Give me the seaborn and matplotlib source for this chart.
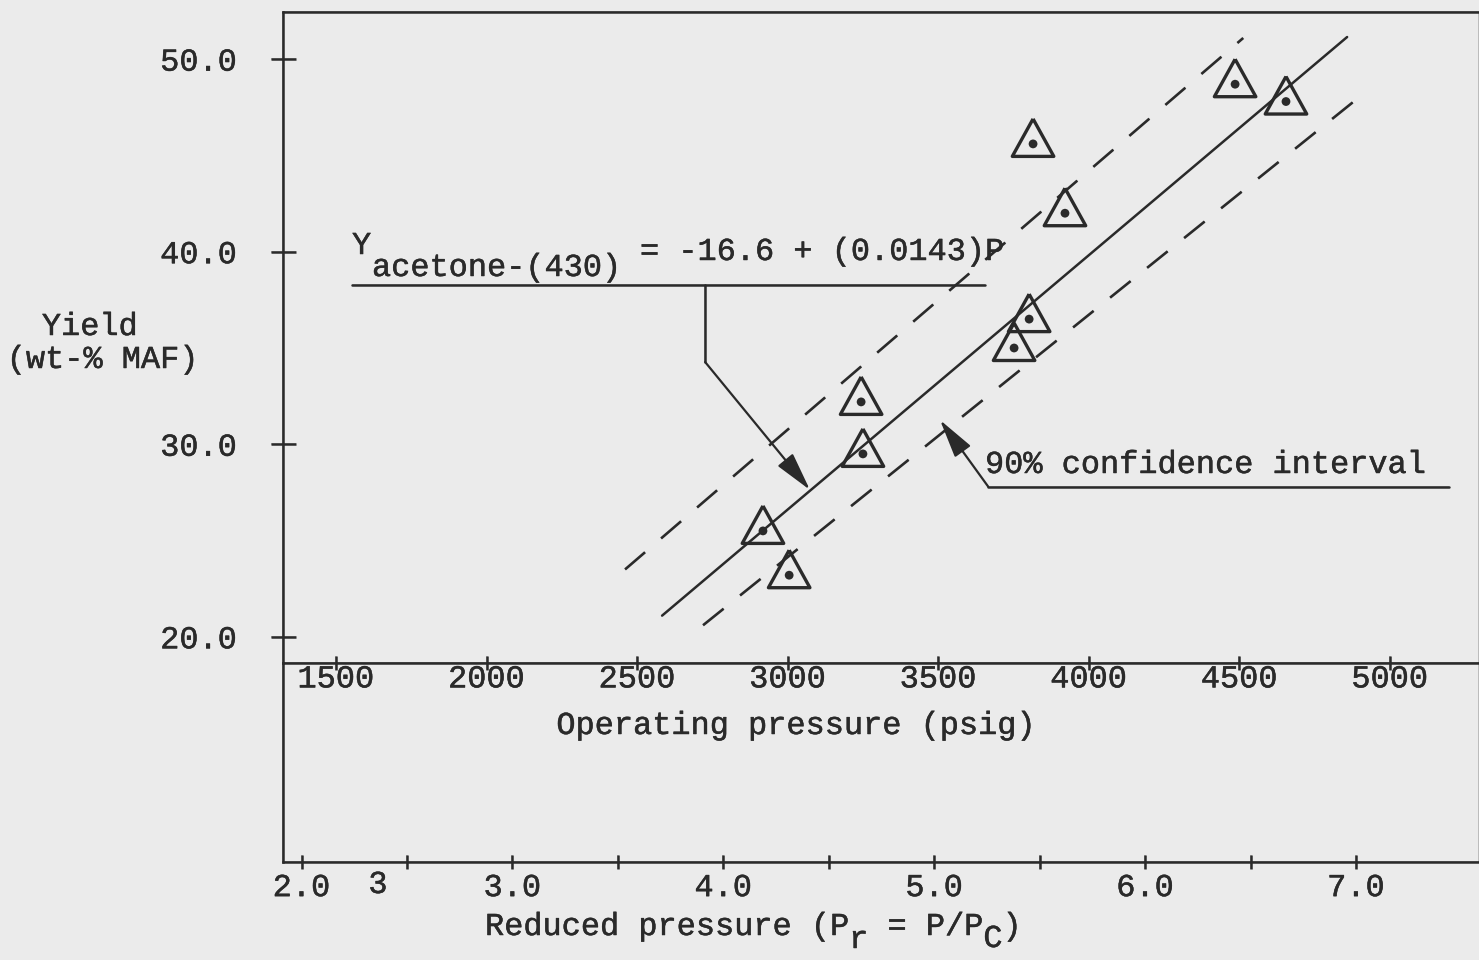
import matplotlib
matplotlib.use("Agg")
import matplotlib.pyplot as plt
import matplotlib.patheffects as pe
import seaborn as sns

# --- data ---
pressure = [2918, 3005, 3244, 3250, 3752, 3802, 3815, 3921, 4486, 4655]
yield_pct = [25.5, 23.2, 32.2, 29.5, 35.0, 36.5, 45.6, 42.0, 48.7, 47.8]

fit_p = [2583, 4858]
fit_y = [21.1, 51.15]
upper_p = [2460, 4513]
upper_y = [23.5, 51.1]
lower_p = [2719, 4888]
lower_y = [20.6, 47.9]

p_ticks = [1500, 2000, 2500, 3000, 3500, 4000, 4500, 5000]
y_ticks = [20, 30, 40, 50]
y_labels = ['20.0', '30.0', '40.0', '50.0']
pr_ticks = [2.0, 2.5, 3.0, 3.5, 4.0, 4.5, 5.0, 5.5, 6.0, 6.5, 7.0]
pr_labels = ['2.0', '', '3.0', '', '4.0', '', '5.0', '', '6.0', '', '7.0']

# --- style ---
ink = '#2a2a2a'
paper = '#ebebeb'
W, H = 1479, 960
FS = 23
CH = FS * 100 / 72 * 0.6  # monospace advance in pixels

sns.set_theme(style='white')
plt.rcParams['font.family'] = ['Liberation Mono', 'DejaVu Sans Mono']
plt.rcParams['font.size'] = FS
plt.rcParams['text.color'] = ink
plt.rcParams['path.effects'] = [pe.withStroke(linewidth=0.35, foreground=ink)]

fig = plt.figure(figsize=(W / 100, H / 100), dpi=100, facecolor=paper)
ax = fig.add_axes([283 / W, 1 - 663 / H, 1 - 283 / W, (663 - 12) / H])
ax2 = fig.add_axes([283 / W, 1 - 862 / H, 1 - 283 / W, (862 - 663) / H])

for a in (ax, ax2):
    a.set_facecolor('none')
    for s in a.spines.values():
        s.set_color(ink)
        s.set_linewidth(1.8)
    a.spines['right'].set_visible(False)
ax2.spines['top'].set_visible(False)

# --- main plot ---
sns.lineplot(x=fit_p, y=fit_y, color=ink, lw=1.8, ax=ax)
sns.lineplot(x=upper_p, y=upper_y, color=ink, lw=1.9, linestyle=(0, (10, 8)), ax=ax)
sns.lineplot(x=lower_p, y=lower_y, color=ink, lw=1.9, linestyle=(0, (10, 8)), ax=ax)

tri = [(0, 1), (-0.83, -0.5), (0.83, -0.5), (0, 1)]
sns.scatterplot(x=pressure, y=yield_pct, marker=tri, s=36 ** 2,
                facecolors='none', edgecolors=ink, linewidth=2.4, ax=ax, zorder=3)
sns.scatterplot(x=pressure, y=yield_pct, marker='o', s=40,
                color=ink, edgecolor='none', ax=ax, zorder=4)

ax.set_xlim(1324, 5296)
ax.set_ylim(18.64, 52.45)
ax.set_xticks(p_ticks)
ax.set_xticklabels([str(t) for t in p_ticks])
ax.set_yticks(y_ticks)
ax.set_yticklabels(y_labels)
ax.tick_params(axis='y', direction='inout', length=18, width=1.8, pad=24,
               labelsize=FS, colors=ink, left=True)
ax.tick_params(axis='x', direction='inout', length=10, width=1.8, pad=-4,
               labelsize=FS, colors=ink, bottom=True)
ax.set_xlabel('')
ax.set_ylabel('')

# equation callout
ax.plot([1553, 3656], [38.27, 38.27], color=ink, lw=1.8)
ax.plot([2726, 2726], [38.27, 34.27], color=ink, lw=1.8)
ax.annotate('', xy=(3074, 27.63), xytext=(2726, 34.27),
            arrowprops=dict(arrowstyle='-|>,head_length=1.2,head_width=0.3',
                            mutation_scale=20, color=ink, lw=1.6,
                            shrinkA=0, shrinkB=0))

# confidence interval callout
ax.plot([3666, 5197], [27.8, 27.8], color=ink, lw=1.8)
ax.annotate('', xy=(3506, 31.26), xytext=(3666, 27.8),
            arrowprops=dict(arrowstyle='-|>,head_length=1.2,head_width=0.3',
                            mutation_scale=20, color=ink, lw=1.6,
                            shrinkA=0, shrinkB=0))

# --- reduced pressure axis ---
ax2.set_xlim(1.912, 7.583)
ax2.set_ylim(0, 1)
ax2.set_xticks(pr_ticks)
ax2.set_xticklabels(pr_labels)
ax2.set_yticks([])
ax2.tick_params(axis='x', direction='inout', length=10, width=1.8, pad=3,
                labelsize=FS, colors=ink, bottom=True)


def put(x, y, s, **kw):
    fig.text(x / W, 1 - y / H, s, va='center', **kw)


put(378, 885, '3', ha='center')
put(797, 726, 'Operating pressure (psig)', ha='center')

# reduced pressure label, pieced together so the subscripts sit low
x0 = 485
parts = [('Reduced pressure (P', 927), ('r', 940), (' = P/P', 927), ('C', 939), (')', 927)]
for txt, yy in parts:
    put(x0, yy, txt, ha='left')
    x0 += len(txt) * CH

put(90, 327, 'Yield', ha='center')
put(103, 360, '(wt-% MAF)', ha='center')
put(352, 246, 'Y', ha='left')
put(372, 268, 'acetone-(430)', ha='left')
put(640, 252, '= -16.6 + (0.0143)P', ha='left')
put(985, 465, '90% confidence interval', ha='left')

fig.savefig('out.png', dpi=100, facecolor=paper)
